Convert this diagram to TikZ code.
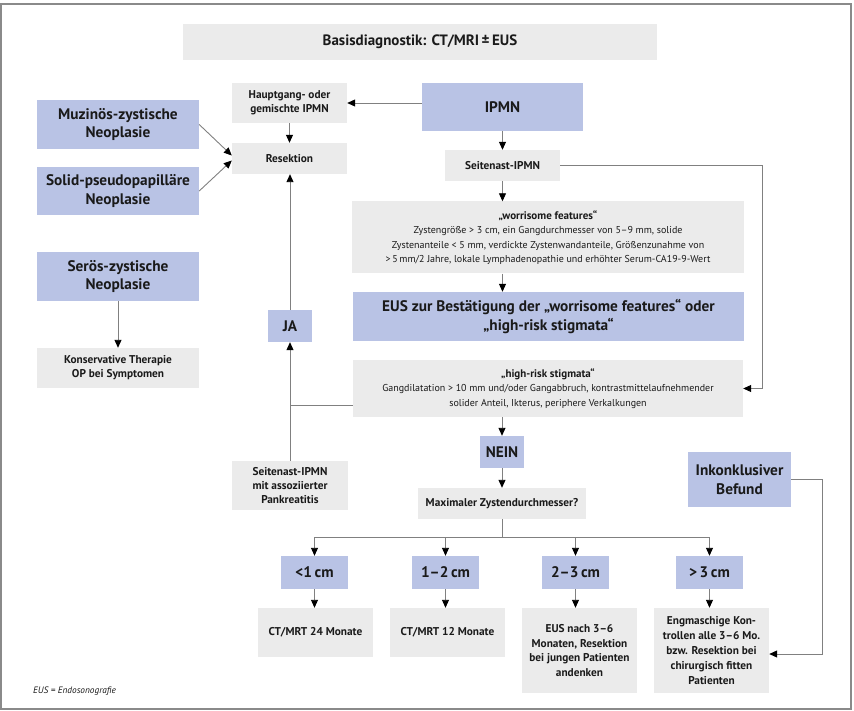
\documentclass[tikz,border=0pt]{standalone}
\usepackage{fontspec}
\setmainfont{PT Sans}
\usetikzlibrary{arrows.meta}
\definecolor{boxblue}{HTML}{B9C3E5}
\definecolor{boxgray}{HTML}{EBEBEB}
\definecolor{linegray}{HTML}{808080}
\definecolor{framegray}{HTML}{8A8A8A}
\definecolor{txt}{HTML}{1A1A1A}
\begin{document}
\begin{tikzpicture}[x=1pt,y=-1pt,
  box/.style={rectangle, inner sep=0pt, align=center, text=txt, font=\bfseries\fontsize{11.3}{14}\selectfont},
  gbox/.style={box, fill=boxgray},
  tbox/.style={box, fill=boxgray, font=\fontsize{10}{14.5}\selectfont},
  bbox/.style={box, fill=boxblue, font=\bfseries\fontsize{15.3}{18.5}\selectfont},
  con/.style={draw=linegray, line width=0.9pt},
  arr/.style={con, -{Triangle[width=7pt,length=8pt,color=black]}},
]
\useasboundingbox (0,0) rectangle (854,711);
\draw[draw=framegray, line width=1.2pt] (1,4) rectangle (851,709);

% top
\node[gbox, minimum width=474pt, minimum height=36pt, font=\bfseries\fontsize{15}{18}\selectfont] (basis) at (420,42) {Basisdiagnostik: CT/MRI\,±\,EUS};

% left column
\node[bbox, minimum width=162pt, minimum height=49pt] (muz) at (118,124.5) {Muzinös-zystische\\Neoplasie};
\node[bbox, minimum width=162pt, minimum height=48pt] (solid) at (118,191) {Solid-pseudopapilläre\\Neoplasie};
\node[bbox, minimum width=162pt, minimum height=49pt] (seros) at (118,276.5) {Serös-zystische\\Neoplasie};
\node[gbox, minimum width=162pt, minimum height=40pt] (konserv) at (118,368) {Konservative Therapie\\OP bei Symptomen};

% middle column
\node[gbox, minimum width=115pt, minimum height=40pt] (haupt) at (289.5,103) {Hauptgang- oder\\gemischte IPMN};
\node[gbox, minimum width=115pt, minimum height=31pt] (resek) at (289.5,158.5) {Resektion};
\node[bbox, minimum width=44pt, minimum height=32pt] (ja) at (290,326) {JA};
\node[gbox, minimum width=116pt, minimum height=49pt] (pank) at (290,485.5) {Seitenast-IPMN\\mit assoziierter\\Pankreatitis};

% right column
\node[bbox, minimum width=161pt, minimum height=48pt] (ipmn) at (502.5,107) {IPMN};
\node[gbox, minimum width=115pt, minimum height=31pt] (seit) at (502.5,165.5) {Seitenast-IPMN};
\node[tbox, minimum width=392pt, minimum height=72pt] (worr) at (548,237.5) {{\bfseries\fontsize{11}{14.5}\selectfont „worrisome features“}\\Zystengröße > 3 cm, ein Gangdurchmesser von 5–9 mm, solide\\Zystenanteile < 5 mm, verdickte Zystenwandanteile, Größenzunahme von\\>\,5\,mm/2 Jahre, lokale Lymphadenopathie und erhöhter Serum-CA19-9-Wert};
\node[bbox, minimum width=391pt, minimum height=49pt] (eus) at (548.5,316.5) {EUS zur Bestätigung der „worrisome features“ oder\\„high-risk stigmata“};
\node[tbox, minimum width=390pt, minimum height=57pt] (hr) at (548,388.5) {{\bfseries\fontsize{11}{14.5}\selectfont „high-risk stigmata“}\\Gangdilatation > 10 mm und/oder Gangabbruch, kontrastmittelaufnehmender\\solider Anteil, Ikterus, periphere Verkalkungen};
\node[bbox, minimum width=44pt, minimum height=32pt] (nein) at (502,452) {NEIN};
\node[gbox, minimum width=168pt, minimum height=31pt] (maxi) at (502,503.5) {Maximaler Zystendurchmesser?};
\node[bbox, minimum width=103pt, minimum height=55pt] (inkon) at (739.5,479.5) {Inkonklusiver\\Befund};

% size boxes
\node[bbox, minimum width=67pt, minimum height=33pt] (lt1) at (314.5,572.5) {<1\,cm};
\node[bbox, minimum width=67pt, minimum height=33pt] (b12) at (445.5,572.5) {1–2\,cm};
\node[bbox, minimum width=67pt, minimum height=33pt] (b23) at (575.5,572.5) {2–3\,cm};
\node[bbox, minimum width=67pt, minimum height=33pt] (gt3) at (709.5,572.5) {>\,3\,cm};

% results
\node[gbox, minimum width=115pt, minimum height=49pt] (ct24) at (315.5,632.5) {CT/MRT 24 Monate};
\node[gbox, minimum width=115pt, minimum height=49pt] (ct12) at (447.5,632.5) {CT/MRT 12 Monate};
\node[gbox, minimum width=115pt, minimum height=85pt, font=\bfseries\fontsize{11.3}{14.8}\selectfont] (eusn) at (579.5,650.5) {EUS nach 3–6\\Monaten, Resektion\\bei jungen Patienten\\andenken};
\node[gbox, minimum width=115pt, minimum height=85pt, font=\bfseries\fontsize{11.3}{14.8}\selectfont] (engm) at (711.5,650.5) {Engmaschige Kon-\\trollen alle 3–6 Mo.\\bzw. Resektion bei\\chirurgisch fitten\\Patienten};

% footnote
\node[anchor=west, inner sep=0pt, text=txt, font=\itshape\fontsize{9.3}{11}\selectfont] (fn) at (33,691) {EUS = Endosonografie};

% connectors
\draw[arr] (ipmn.west |- haupt.east) -- (haupt.east);
\draw[arr] (haupt.south) -- (resek.north);
\draw[arr] (muz.east) -- ([yshift=3pt]resek.west);
\draw[arr] (solid.east) -- ([yshift=-2pt]resek.west);
\draw[arr] (seros.south) -- (konserv.north);
\draw[arr] (ipmn.south) -- (seit.north);
\draw[arr] (seit.south) -- (worr.north -| seit.south);
\draw[arr] (worr.south -| seit.south) -- (eus.north -| seit.south);
\coordinate (rr) at (762,0);
\draw[arr] (seit.east) -| (rr |- hr.east) -- (hr.east);
\draw[arr] (hr.south -| nein.north) -- (nein.north);
\draw[arr] (nein.south) -- (maxi.north);
\draw[arr] (pank.north) -- (ja.south);
\draw[arr] (ja.north) -- (resek.south -| ja.north);
\coordinate (hl) at ([yshift=-17pt]hr.west);
\draw[con] (hl) -- (hl -| ja.south);

\coordinate (bus) at (0,537);
\draw[con] (maxi.south) -- (maxi.south |- bus);
\draw[con] (lt1.north |- bus) -- (gt3.north |- bus);
\foreach \n in {lt1,b12,b23,gt3} { \draw[arr] (\n.north |- bus) -- (\n.north); }
\draw[arr] (lt1.south) -- (ct24.north -| lt1.south);
\draw[arr] (b12.south) -- (ct12.north -| b12.south);
\draw[arr] (b23.south) -- (eusn.north -| b23.south);
\draw[arr] (gt3.south) -- (engm.north -| gt3.south);

\coordinate (rr2) at (822,0);
\coordinate (ein) at ([yshift=-3.5pt]engm.east);
\draw[arr] (inkon.east) -| (rr2 |- ein) -- (ein);
\end{tikzpicture}
\end{document}
